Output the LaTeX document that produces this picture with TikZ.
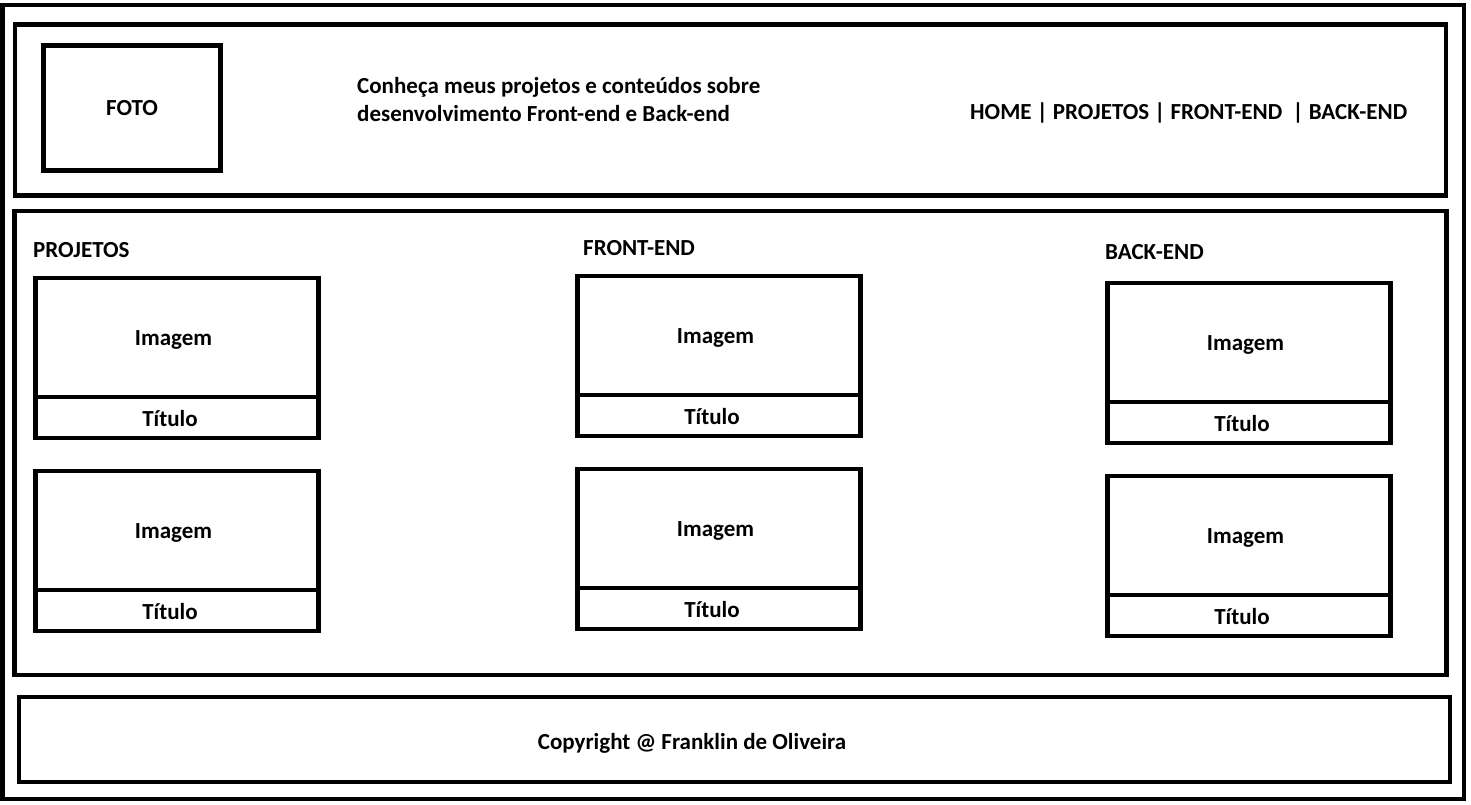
\documentclass[tikz,border=0pt]{standalone}
\usepackage{fontspec}
\setmainfont{Carlito}
\usepackage{tikz}
\usetikzlibrary{positioning}

\begin{document}
\begin{tikzpicture}[x=1pt, y=-1pt,
    font=\fontsize{23}{28}\selectfont\bfseries,
    caixa/.style={draw, line width=4.5pt, rectangle, outer sep=0pt, inner sep=0pt},
    rotulo/.style={anchor=west, inner sep=0pt}]
    \useasboundingbox (0,0) rectangle (1471,805);

    % Moldura externa e blocos da página
    \draw[line width=4.5pt] (2.5,5) rectangle (1464,799);
    \node[caixa, anchor=north west, minimum width=1431pt, minimum height=171pt] (cabecalho) at (15,24.5) {};
    \node[caixa, anchor=north west, minimum width=1432pt, minimum height=464pt] (principal) at (14.5,211) {};
    \node[caixa, anchor=north west, minimum width=1431pt, minimum height=85pt] (rodape) at (19,697) {};

    % Cabeçalho: foto, texto e menu
    \node[caixa, anchor=north west, minimum width=177pt, minimum height=125pt] (foto) at (43.5,45.5) {FOTO};
    \node[rotulo, align=left] (intro) at (357,100) {Conheça meus projetos e conteúdos sobre\\desenvolvimento Front-end e Back-end};
    \node[rotulo] (menu) at (970,113) {HOME | PROJETOS | FRONT-END \ | BACK-END};

    % Títulos das colunas
    \node[rotulo] (projetos) at (33,250) {PROJETOS};
    \node[rotulo] (frontend) at (583,248) {FRONT-END};
    \node[rotulo] (backend) at (1105,252) {BACK-END};

    % Cartões: imagem + título
    \foreach \col/\x/\y in {proj/35.5/278, front/577.5/276, back/1107.5/283} {
        \foreach \lin/\dy in {1/0, 2/193} {
            \node[caixa, anchor=north west, minimum width=283pt, minimum height=119pt] (\col img\lin) at (\x,\y+\dy) {};
            \node[caixa, anchor=north, minimum width=283pt, minimum height=41pt] (\col tit\lin) at (\col img\lin.south) {};
            \node at ([xshift=-3.5pt, yshift=-2pt]\col img\lin.center) {Imagem};
            \node at ([xshift=-7pt, yshift=-1pt]\col tit\lin.center) {Título};
        }
    }

    % Rodapé
    \node (copy) at (692,743) {Copyright @ Franklin de Oliveira};
\end{tikzpicture}
\end{document}
